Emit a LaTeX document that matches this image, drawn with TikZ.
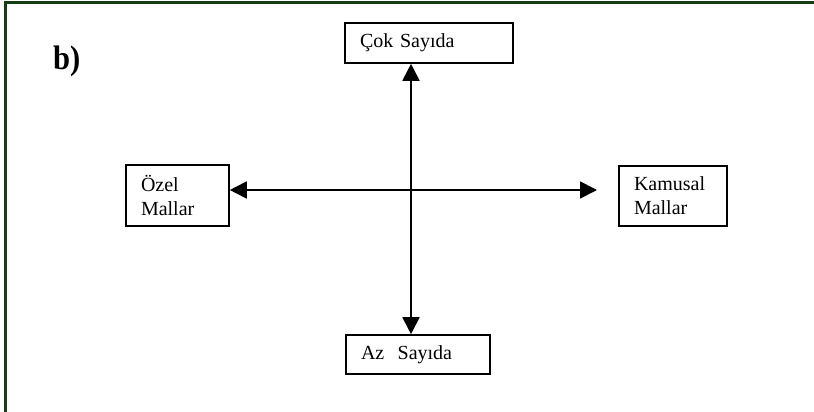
\documentclass[tikz,border=0pt]{standalone}
\usepackage{fontspec}
\setmainfont{Liberation Serif}
\usetikzlibrary{arrows.meta}
\definecolor{framegreen}{RGB}{22,62,22}
\begin{document}
\begin{tikzpicture}[x=1pt,y=-1pt,
  box/.style={draw=black,line width=1.6pt,rectangle,inner sep=0pt,
    font=\fontsize{20}{24}\selectfont,align=left,anchor=center},
  tip/.tip={Triangle[length=17pt,width=17pt]},
  arr/.style={line width=1.8pt,tip-tip}]
\useasboundingbox (0,0) rectangle (814,412);
\draw[framegreen,line width=3pt] (5,412) -- (5,3) -- (814,3);
\node[font=\fontsize{34}{38}\selectfont\bfseries,anchor=base west,xscale=0.9] (lbl) at (50,70) {b)};
\node[box,minimum width=168pt,minimum height=40pt,text width=138pt] (cok) at (429,43) {Çok Sayıda};
\node[box,minimum width=103pt,minimum height=61pt,text width=73pt] (ozel) at (177.5,195.5) {Özel\\Mallar};
\node[box,minimum width=108pt,minimum height=60pt,text width=78pt] (kam) at (673,196) {Kamusal\\Mallar};
\node[box,minimum width=144pt,minimum height=39pt,text width=114pt] (az) at (418,354.5) {Az\ \ Sayıda};
\coordinate (c) at (411,190);
\coordinate (kr) at (597,190);
\draw[arr] (c |- cok.south) -- (c |- az.north);
\draw[arr] (ozel.east |- c) -- (kr);
\end{tikzpicture}
\end{document}
